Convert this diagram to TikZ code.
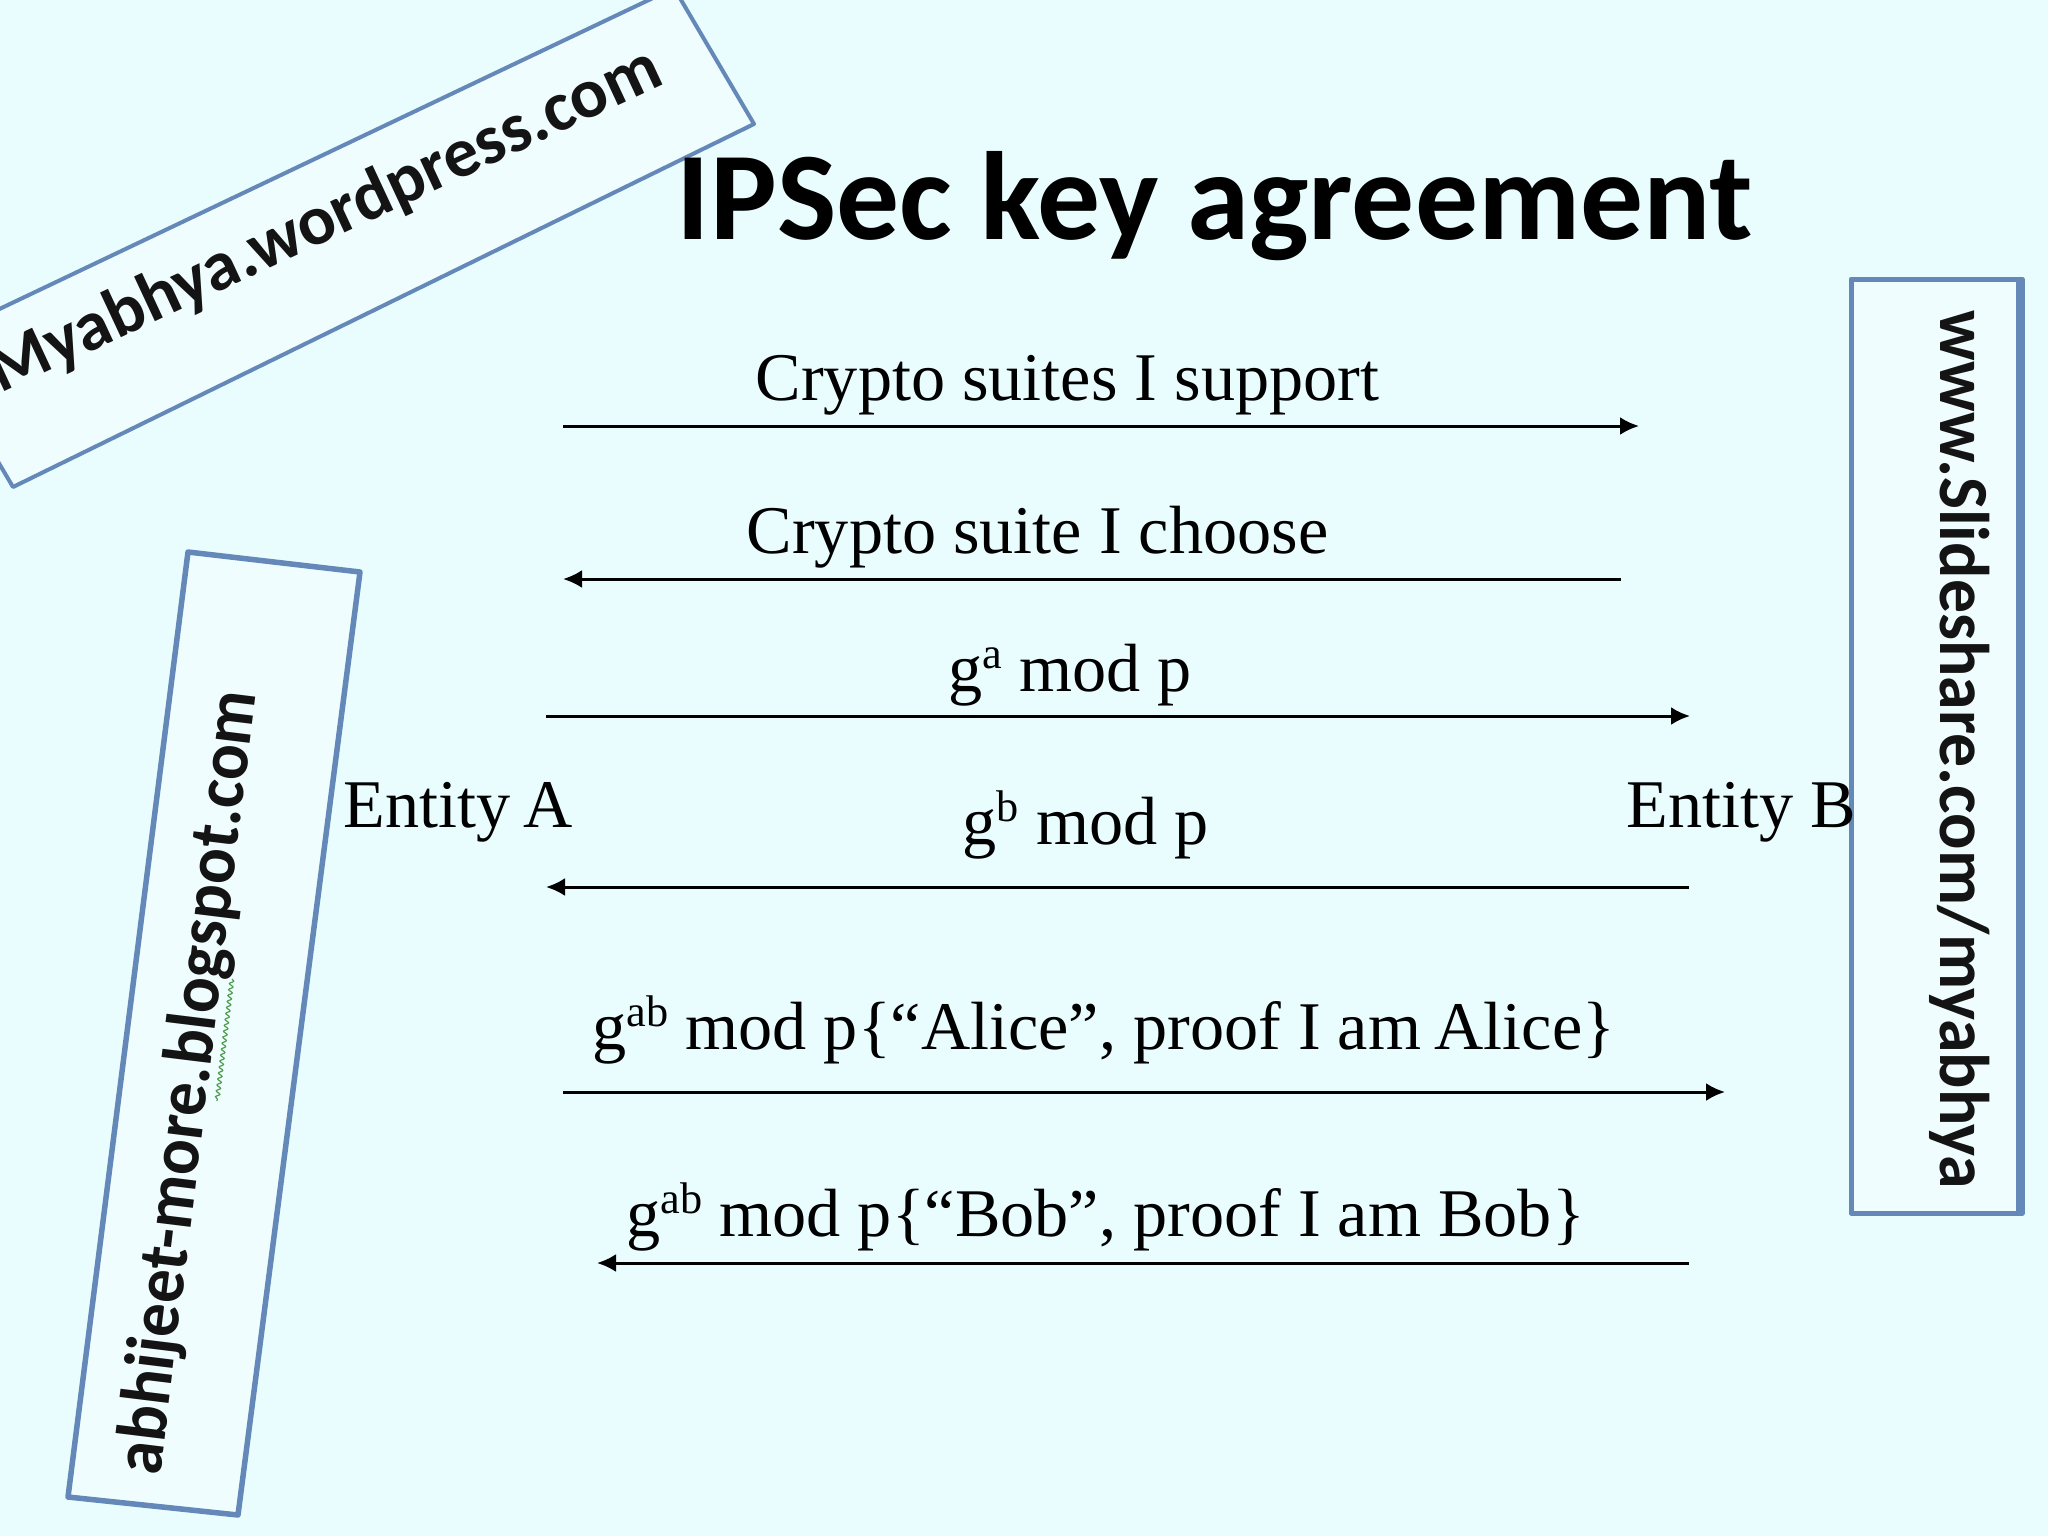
\documentclass[tikz,border=0pt]{standalone}
\usepackage{fontspec}
\setmainfont{Liberation Serif}
\newfontfamily\wmfont{Carlito}
\usetikzlibrary{arrows.meta,decorations.pathmorphing}
\definecolor{slidebg}{HTML}{E9FDFF}
\definecolor{stampbg}{HTML}{F0FDFF}
\definecolor{stampline}{HTML}{6488B8}
\newcommand{\upidx}[1]{\raisebox{6.5pt}{\fontsize{12.6pt}{14pt}\selectfont #1}}

\begin{document}
\begin{tikzpicture}[x=.01cm,y=-.01cm,>={Latex[length=.19cm,width=.18cm]}]
   \tikzstyle{main}=[anchor=base west, inner sep=0pt, font=\fontsize{19.4pt}{23pt}\selectfont]
   \tikzstyle{stamp}=[draw=stampline, fill=stampbg, line width=.05cm, line join=round]
   \tikzstyle{wm}=[anchor=base west, inner sep=0pt, text=black!92, transform shape, font=\wmfont\bfseries\fontsize{20pt}{24pt}\selectfont]
   \tikzstyle{msg}=[line width=.03cm, ->]
   \path[use as bounding box, fill=slidebg] (0,0) rectangle (2048,1536);
   \clip (0,0) rectangle (2048,1536);
   % stamps
   \draw[stamp, line width=.04cm] (754,124) -- (13,487) -- (-72,343) -- (674,-12) -- cycle;
   \draw[stamp, line width=.055cm] (188,552) -- (360,572) -- (238,1515) -- (68,1497) -- cycle;
   \draw[stamp] (1851,279) -- (2022,279) -- (2022,1213) -- (1851,1213) -- cycle;
   \draw[stampline, line width=.08cm] (2020,279) -- (2020,1213);
   \begin{scope}[shift={(0,394)},rotate=25]
       \node[wm] (stampA) at (0,0) {Myabhya.wordpress.com};
   \end{scope}
   \begin{scope}[shift={(160,1477)},rotate=83,xscale=.95]
       \node[wm] (stampB) at (0,0) {abhijeet-more.blogspot.com};
   \end{scope}
   \begin{scope}[shift={(1940,310)},rotate=-90,xscale=.964]
       \node[wm] (stampC) at (0,0) {www.Slideshare.com/myabhya};
   \end{scope}
   \draw[green!45!black!70, line width=.012cm, decorate, decoration={snake,amplitude=.02cm,segment length=.06cm}] (232,979) -- (217,1101);
   % title
   \node[anchor=base west, inner sep=0pt, font=\wmfont\bfseries\fontsize{35.7pt}{42pt}\selectfont] (title) at (676,239) {IPSec key agreement};
   % entities
   \node[main] (entityA) at (343,827.5) {Entity\kern-.055em{} A};
   \node[main] (entityB) at (1626,827.5) {Entity B};
   % messages
   \foreach \i/\tx/\ty/\xa/\xb/\y/\word in {
       1/755/400.5/563/1639/426/{Crypto suites I support},
       2/746/553.5/1621/563/579/{Crypto suite I choose},
       3/948/691.5/546/1690/716/{g\upidx{a} mod p},
       4/962/844.5/1689/546/887/{g\upidx{b} mod p},
       5/592/1049.5/563/1725/1092/{g\upidx{ab} mod p\{“Alice”, proof I am\kern-.055em{} Alice\}},
       6/626/1236.5/1689/597/1263/{g\upidx{ab} mod p\{“Bob”, proof I am Bob\}}} {
       \node[main] (label\i) at (\tx,\ty) {\word};
       \coordinate (from\i) at (\xa,\y);
       \coordinate (to\i) at (\xb,\y);
       \path[msg] (from\i) edge (to\i);
   }
\end{tikzpicture}
\end{document}
